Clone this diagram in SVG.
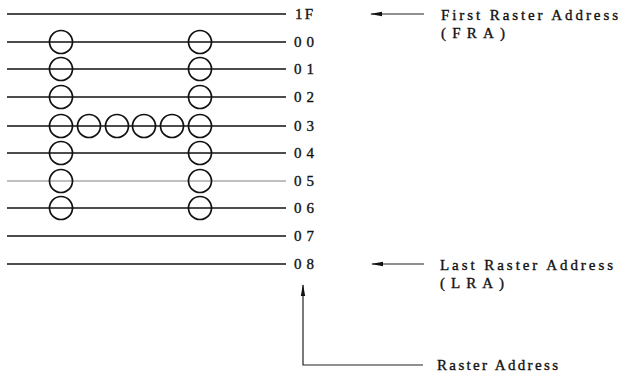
<svg xmlns="http://www.w3.org/2000/svg" width="623" height="386" viewBox="0 0 623 386">
  <style>
    .raster { stroke: #111; stroke-width: 1.5; fill: none; }
    .dim { stroke: #aaa; }
    .dot { stroke: #111; stroke-width: 1.7; fill: none; }
    .lbl { font-family: "Liberation Serif", "DejaVu Serif", serif; font-size: 15px; fill: #111; stroke: #111; stroke-width: 0.35; }
    .conn { stroke: #222; stroke-width: 1.2; fill: none; }
  </style>
  <defs>
    <marker id="arrow" viewBox="0 0 12 6" refX="11" refY="3" markerWidth="12" markerHeight="6" markerUnits="userSpaceOnUse" orient="auto">
      <path d="M0,0.8 L12,3 L0,5.2 z" fill="#111"/>
    </marker>
  </defs>
  <rect width="623" height="386" fill="#fff"/>

  <!-- raster scan lines with their addresses -->
  <g id="rows">
    <g id="row-1F"><line class="raster" x1="7" y1="14" x2="286" y2="14"/><text class="lbl" x="295" y="19" textLength="18" lengthAdjust="spacing">1F</text></g>
    <g id="row-00"><line class="raster" x1="7" y1="42" x2="286" y2="42"/><text class="lbl" x="294" y="47" textLength="20" lengthAdjust="spacing">00</text></g>
    <g id="row-01"><line class="raster" x1="7" y1="69" x2="286" y2="69"/><text class="lbl" x="294" y="74" textLength="20" lengthAdjust="spacing">01</text></g>
    <g id="row-02"><line class="raster" x1="7" y1="97" x2="286" y2="97"/><text class="lbl" x="294" y="102" textLength="20" lengthAdjust="spacing">02</text></g>
    <g id="row-03"><line class="raster" x1="7" y1="126" x2="286" y2="126"/><text class="lbl" x="294" y="131" textLength="20" lengthAdjust="spacing">03</text></g>
    <g id="row-04"><line class="raster" x1="7" y1="153" x2="286" y2="153"/><text class="lbl" x="294" y="158" textLength="20" lengthAdjust="spacing">04</text></g>
    <g id="row-05"><line class="raster dim" x1="7" y1="181" x2="286" y2="181"/><text class="lbl" x="294" y="186" textLength="20" lengthAdjust="spacing">05</text></g>
    <g id="row-06"><line class="raster" x1="7" y1="208" x2="286" y2="208"/><text class="lbl" x="294" y="213" textLength="20" lengthAdjust="spacing">06</text></g>
    <g id="row-07"><line class="raster" x1="7" y1="236" x2="286" y2="236"/><text class="lbl" x="294" y="241" textLength="20" lengthAdjust="spacing">07</text></g>
    <g id="row-08"><line class="raster" x1="7" y1="264" x2="286" y2="264"/><text class="lbl" x="294" y="269" textLength="20" lengthAdjust="spacing">08</text></g>
  </g>

  <!-- character dots ("H" pattern) -->
  <g id="dots">
    <circle class="dot" cx="61" cy="42" r="11.5"/><circle class="dot" cx="200" cy="42" r="11.5"/>
    <circle class="dot" cx="61" cy="69" r="11.5"/><circle class="dot" cx="200" cy="69" r="11.5"/>
    <circle class="dot" cx="61" cy="97" r="11.5"/><circle class="dot" cx="200" cy="97" r="11.5"/>
    <circle class="dot" cx="61" cy="126" r="11.5"/><circle class="dot" cx="89" cy="126" r="11.5"/>
    <circle class="dot" cx="117" cy="126" r="11.5"/><circle class="dot" cx="144" cy="126" r="11.5"/>
    <circle class="dot" cx="172" cy="126" r="11.5"/><circle class="dot" cx="200" cy="126" r="11.5"/>
    <circle class="dot" cx="61" cy="153" r="11.5"/><circle class="dot" cx="200" cy="153" r="11.5"/>
    <circle class="dot" cx="61" cy="181" r="11.5"/><circle class="dot" cx="200" cy="181" r="11.5"/>
    <circle class="dot" cx="61" cy="208" r="11.5"/><circle class="dot" cx="200" cy="208" r="11.5"/>
  </g>

  <!-- annotations -->
  <g id="fra">
    <text class="lbl" x="441" y="20" textLength="177" lengthAdjust="spacing">First Raster Address</text>
    <text class="lbl" x="441" y="38" textLength="64" lengthAdjust="spacing">(FRA)</text>
  </g>
  <g id="lra">
    <text class="lbl" x="440" y="270" textLength="173" lengthAdjust="spacing">Last Raster Address</text>
    <text class="lbl" x="440" y="288" textLength="64" lengthAdjust="spacing">(LRA)</text>
  </g>
  <g id="ra">
    <text class="lbl" x="437" y="370" textLength="121" lengthAdjust="spacing">Raster Address</text>
  </g>

  <g id="connectors">
    <line class="conn" x1="424" y1="14" x2="371" y2="14" marker-end="url(#arrow)"/>
    <line class="conn" x1="424" y1="264" x2="372" y2="264" marker-end="url(#arrow)"/>
    <polyline class="conn" points="423,365 303,365 303,285" marker-end="url(#arrow)"/>
  </g>
</svg>
